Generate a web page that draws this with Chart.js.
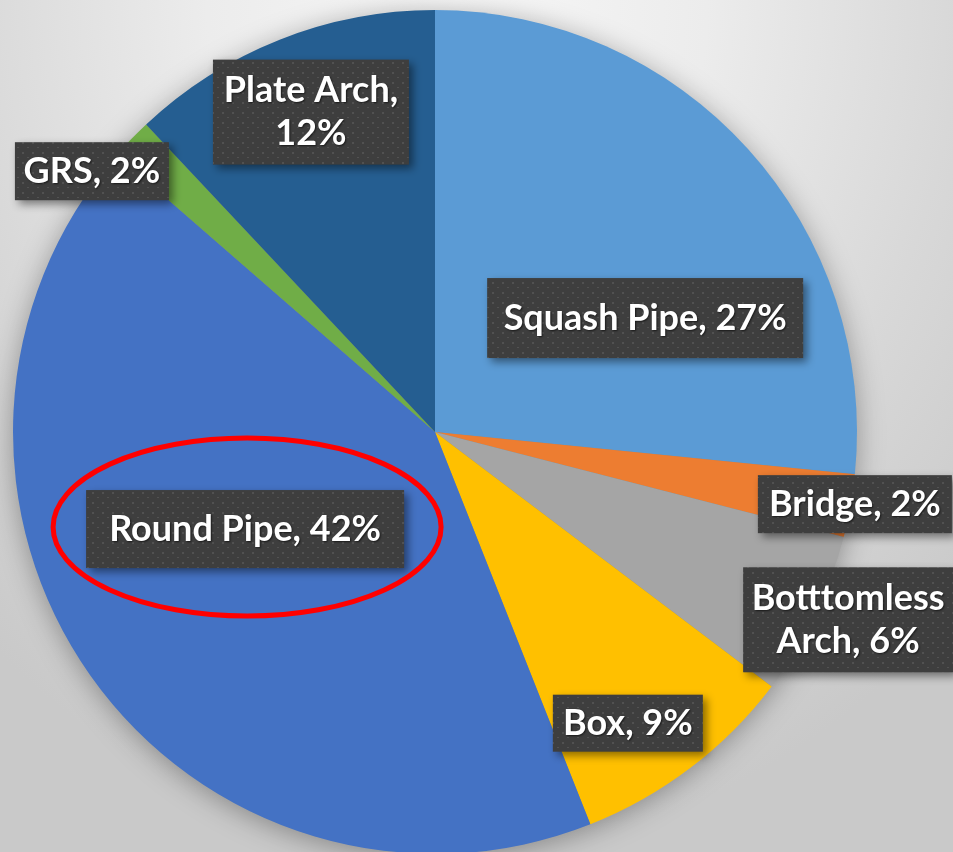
<!DOCTYPE html>
<html>
<head>
<meta charset="utf-8">
<script src="https://cdn.jsdelivr.net/npm/chart.js@4.4.1/dist/chart.umd.min.js"></script>
<style>
  html, body { margin: 0; padding: 0; width: 953px; height: 852px; overflow: hidden; }
  body { background: radial-gradient(ellipse 75% 100% at 48% 0%, #f7f7f7 0%, #ececec 35%, #d8d8d8 70%, #c9c9c9 100%); }
  canvas { display: block; }
</style>
</head>
<body>
<canvas id="pieChart" width="953" height="860"></canvas>
<script>
// 파이 차트 데이터
const categories = ['Squash Pipe', 'Bridge', 'Botttomless Arch', 'Box', 'Round Pipe', 'GRS', 'Plate Arch'];
const shares = [26.6, 2.4, 6.3, 8.7, 42.4, 1.6, 12.0];
const sliceColors = ['#5B9BD5', '#ED7D31', '#A5A5A5', '#FFC000', '#4472C4', '#70AD47', '#255E91'];

// 라벨 위치 (반지름 단위, 파이 중심 기준) 과 박스 크기
const labelLayout = [
  { dx: 0.498, dy: -0.270, w: 316, h: 80 },
  { dx: 0.995, dy: 0.171, w: 194, h: 58 },
  { dx: 0.979, dy: 0.445, w: 210, h: 105, breakAfter: 1 },
  { dx: 0.457, dy: 0.690, w: 150, h: 57 },
  { dx: -0.450, dy: 0.230, w: 318, h: 78, circled: true },
  { dx: -0.813, dy: -0.618, w: 154, h: 58 },
  { dx: -0.294, dy: -0.758, w: 196, h: 105, breakAfter: 2 }
];

// 라벨 박스 점무늬
function makeDots() {
  const c = document.createElement('canvas');
  c.width = 10; c.height = 10;
  const g = c.getContext('2d');
  g.fillStyle = '#3e3e3e';
  g.fillRect(0, 0, 10, 10);
  g.fillStyle = 'rgba(255,255,255,0.10)';
  g.fillRect(2, 2, 2, 2);
  g.fillRect(7, 7, 2, 1);
  return c;
}

// 파이 그림자
const pieShadow = {
  id: 'pieShadow',
  beforeDatasetsDraw(chart) {
    const arc = chart.getDatasetMeta(0).data[0];
    const ctx = chart.ctx;
    ctx.save();
    ctx.shadowColor = 'rgba(0,0,0,0.35)';
    ctx.shadowBlur = 28;
    ctx.shadowOffsetY = 4;
    ctx.fillStyle = '#888';
    ctx.beginPath();
    ctx.arc(arc.x, arc.y, arc.outerRadius - 1, 0, Math.PI * 2);
    ctx.fill();
    ctx.restore();
  }
};

// 데이터 라벨
const boxLabels = {
  id: 'boxLabels',
  afterDatasetsDraw(chart) {
    const meta = chart.getDatasetMeta(0);
    const ctx = chart.ctx;
    const pattern = ctx.createPattern(makeDots(), 'repeat');
    const total = shares.reduce((a, b) => a + b, 0);
    meta.data.forEach((arc, i) => {
      const lay = labelLayout[i];
      const r = arc.outerRadius;
      const cx = arc.x + lay.dx * r;
      const cy = arc.y + lay.dy * r;
      const text = categories[i] + ', ' + Math.round(shares[i] / total * 100) + '%';
      let lines = [text];
      if (lay.breakAfter) {
        const words = text.split(' ');
        lines = [words.slice(0, lay.breakAfter).join(' '), words.slice(lay.breakAfter).join(' ')];
      }
      const x0 = cx - lay.w / 2, y0 = cy - lay.h / 2;

      ctx.save();
      ctx.shadowColor = 'rgba(0,0,0,0.45)';
      ctx.shadowBlur = 8;
      ctx.shadowOffsetX = 4;
      ctx.shadowOffsetY = 4;
      ctx.fillStyle = pattern;
      ctx.fillRect(x0, y0, lay.w, lay.h);
      ctx.restore();

      ctx.save();
      ctx.font = 'bold 36px Lato';
      ctx.fillStyle = '#ffffff';
      ctx.textAlign = 'center';
      ctx.textBaseline = 'middle';
      ctx.shadowColor = 'rgba(0,0,0,0.6)';
      ctx.shadowBlur = 2;
      ctx.shadowOffsetX = 1;
      ctx.shadowOffsetY = 1;
      const lh = 43;
      lines.forEach((ln, k) => {
        ctx.fillText(ln, cx, cy + (k - (lines.length - 1) / 2) * lh);
      });
      ctx.restore();

      if (lay.circled) {
        ctx.save();
        ctx.strokeStyle = '#FF0000';
        ctx.lineWidth = 5;
        ctx.beginPath();
        ctx.ellipse(cx + 2, cy - 2, lay.w / 2 + 35, lay.h / 2 + 50, 0, 0, Math.PI * 2);
        ctx.stroke();
        ctx.restore();
      }
    });
  }
};

// 파이 차트 생성
const ctx = document.getElementById('pieChart').getContext('2d');
const pieChart = new Chart(ctx, {
  type: 'pie',
  data: {
    labels: categories,
    datasets: [{
      data: shares,
      backgroundColor: sliceColors,
      borderWidth: 0
    }]
  },
  options: {
    responsive: false,
    animation: false,
    layout: { padding: { left: 13, right: 96, top: 10, bottom: 6 } },
    plugins: {
      legend: { display: false },
      tooltip: { enabled: false }
    }
  },
  plugins: [pieShadow, boxLabels]
});
</script>
</body>
</html>
